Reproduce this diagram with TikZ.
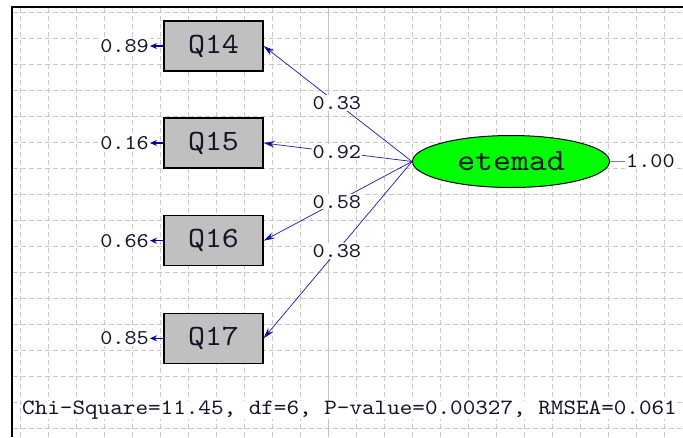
\documentclass[tikz,border=0pt]{standalone}
\usepackage{fontspec}
\newfontfamily\lmono{lmmono10-regular.otf}[FakeStretch=1.1]
\usetikzlibrary{arrows.meta,shapes.geometric}
\definecolor{gridcol}{RGB}{200,200,200}
\definecolor{axiscol}{RGB}{195,195,195}
\definecolor{boxgray}{RGB}{192,192,192}
\definecolor{latgreen}{RGB}{0,255,0}
\definecolor{pathblue}{RGB}{25,25,175}
\definecolor{tipblue}{RGB}{0,0,160}
\definecolor{labcol}{RGB}{20,20,40}
\begin{document}
\begin{tikzpicture}[x=1pt,y=-1pt,
  gridline/.style={draw=gridcol, line width=0.8pt, dash pattern=on 5pt off 3pt},
  obs/.style={rectangle, draw=black, line width=1.3pt, fill=boxgray, minimum width=99pt, minimum height=50pt, inner sep=0pt, text=labcol, font=\lmono\fontsize{29.4}{31}\selectfont},
  lat/.style={ellipse, draw=black, line width=1pt, fill=latgreen, minimum width=197pt, minimum height=52pt, inner sep=0pt, text=labcol, font=\lmono\fontsize{31}{33}\selectfont},
  lbl/.style={font=\lmono\fontsize{21}{23}\selectfont, text=labcol, inner sep=1pt, fill=white},
  load/.style={draw=pathblue, line width=0.7pt, -{Stealth[length=11pt,width=6.5pt,fill=tipblue]}},
  errarr/.style={draw=tipblue, line width=1.2pt, -{Stealth[length=7pt,width=6pt,fill=tipblue]}},
]
\useasboundingbox (0,0) rectangle (683,437);
\fill[white] (0,0) rectangle (683,437);
% grid
\foreach \k in {0,...,16} {
  \draw[gridline] (13,12.7+25.97*\k) -- (683,12.7+25.97*\k);
}
\foreach \k in {0,...,23} {
  \ifnum\k=11
    \draw[draw=axiscol, line width=1pt] (20+28*\k,8) -- (20+28*\k,437);
  \else
    \draw[gridline] (20+28*\k,8) -- (20+28*\k,437);
  \fi
}
% frame
\draw[black, line width=2pt] (12,437) -- (12,7) -- (683,7);

% observed variables
\node[obs] (Q14) at (213.5,46) {Q14};
\node[obs] (Q15) at (213.5,143) {Q15};
\node[obs] (Q16) at (213.5,240.7) {Q16};
\node[obs] (Q17) at (213.5,338.3) {Q17};

% latent
\node[lat] (et) at (511,161.5) {etemad};

% error variances
\node[lbl, anchor=east] (e14) at (150,46) {0.89};
\node[lbl, anchor=east] (e15) at (150,143) {0.16};
\node[lbl, anchor=east] (e16) at (150,240.7) {0.66};
\node[lbl, anchor=east] (e17) at (150,338.3) {0.85};
\draw[errarr] (Q14.west) -- (e14.east);
\draw[errarr] (Q15.west) -- (e15.east);
\draw[errarr] (Q16.west) -- (e16.east);
\draw[errarr] (Q17.west) -- (e17.east);

% loadings
\draw[load] (et.west) -- node[lbl, pos=0.507] {0.33} (Q14.east);
\draw[load] (et.west) -- node[lbl, pos=0.507] {0.92} (Q15.east);
\draw[load] (et.west) -- node[lbl, pos=0.507] {0.58} (Q16.east);
\draw[load] (et.west) -- node[lbl, pos=0.507] {0.38} (Q17.east);

% latent variance
\node[lbl, anchor=west] (v) at (625,161.5) {1.00};
\draw[draw=gray, line width=0.8pt] (et.east) -- (v.west);

% fit statistics
\node[lbl, anchor=west, inner sep=0pt, font=\lmono\fontsize{21.8}{24}\selectfont] (fit) at (22,410) {Chi-Square=11.45, df=6, P-value=0.00327, RMSEA=0.061};
\end{tikzpicture}
\end{document}
